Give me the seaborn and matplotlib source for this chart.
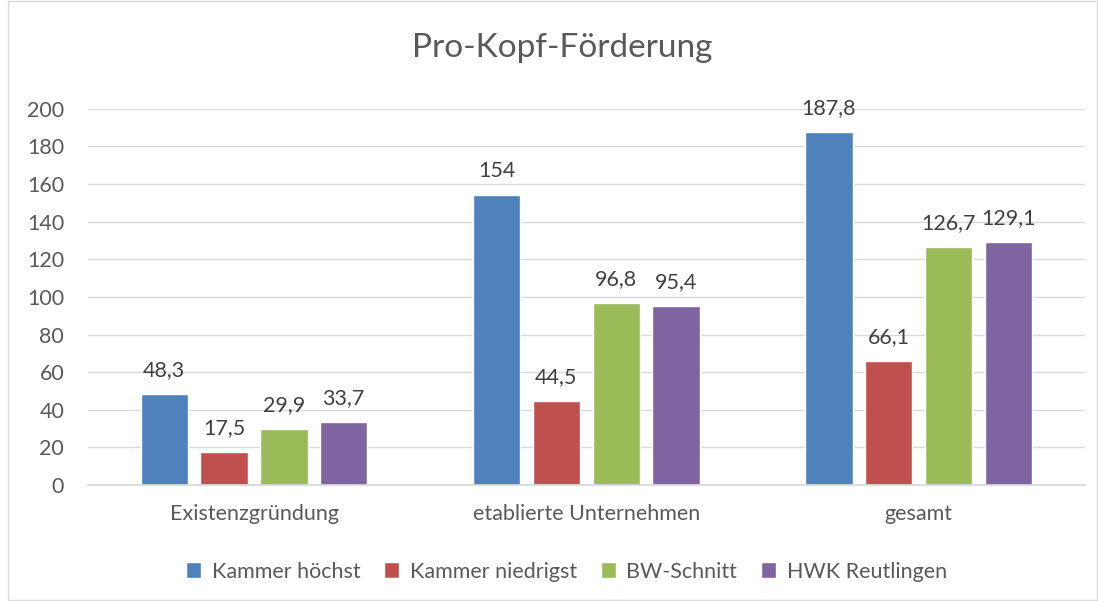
import matplotlib
matplotlib.use("Agg")
import matplotlib.pyplot as plt
import pandas as pd
import seaborn as sns
from matplotlib.patches import Rectangle

categories = ["Existenzgründung", "etablierte Unternehmen", "gesamt"]
series = ["Kammer höchst", "Kammer niedrigst", "BW-Schnitt", "HWK Reutlingen"]
kammer_hoechst = [48.3, 154.0, 187.8]
kammer_niedrigst = [17.5, 44.5, 66.1]
bw_schnitt = [29.9, 96.8, 126.7]
hwk_reutlingen = [33.7, 95.4, 129.1]
colors = ["#4F81BD", "#C0504D", "#9BBB59", "#8064A2"]

values = [kammer_hoechst, kammer_niedrigst, bw_schnitt, hwk_reutlingen]
rows = []
for name, vals in zip(series, values):
    for cat, v in zip(categories, vals):
        rows.append({"Kategorie": cat, "Serie": name, "Wert": v})
df = pd.DataFrame(rows)

sns.set_theme(style="white")
plt.rcParams["font.family"] = ["Lato", "DejaVu Sans"]
text_color = "#595959"

fig = plt.figure(figsize=(10.98, 6.01), dpi=100)
ax = fig.add_axes([0.080, 0.193, 0.908, 0.626])

sns.barplot(data=df, x="Kategorie", y="Wert", hue="Serie", order=categories,
            hue_order=series, palette=colors, width=0.72, gap=0.21,
            saturation=1, ax=ax, legend=True)

for container in ax.containers:
    labels = [f"{v:g}".replace(".", ",") for v in container.datavalues]
    ax.bar_label(container, labels=labels, padding=10, fontsize=15.5, color="#404040")

ax.set_ylim(0, 200)
ax.set_yticks(range(0, 201, 20))
ax.set_xlim(-0.5, 2.5)
ax.yaxis.grid(True, color="#D9D9D9", linewidth=1)
ax.set_axisbelow(True)
for side in ["top", "right", "left"]:
    ax.spines[side].set_visible(False)
ax.spines["bottom"].set_color("#D9D9D9")
ax.tick_params(axis="y", length=0, labelsize=15.5, colors=text_color, pad=17)
ax.tick_params(axis="x", length=0, labelsize=15.5, colors=text_color, pad=14)
ax.set_xlabel("")
ax.set_ylabel("")

fig.suptitle("Pro-Kopf-Förderung", x=0.512, y=0.945, fontsize=24, color=text_color)

handles, labs = ax.get_legend_handles_labels()
ax.legend(handles, labs, loc="center", bbox_to_anchor=(0.48, -0.23), ncol=4,
          frameon=False, fontsize=15.5, labelcolor=text_color, handlelength=0.7,
          handleheight=0.7, columnspacing=1.1, handletextpad=0.5)

fig.patches.append(Rectangle((0.007, 0.002), 0.992, 0.996, transform=fig.transFigure,
                             fill=False, edgecolor="#D9D9D9", linewidth=1))

fig.savefig("out.png", dpi=100)
